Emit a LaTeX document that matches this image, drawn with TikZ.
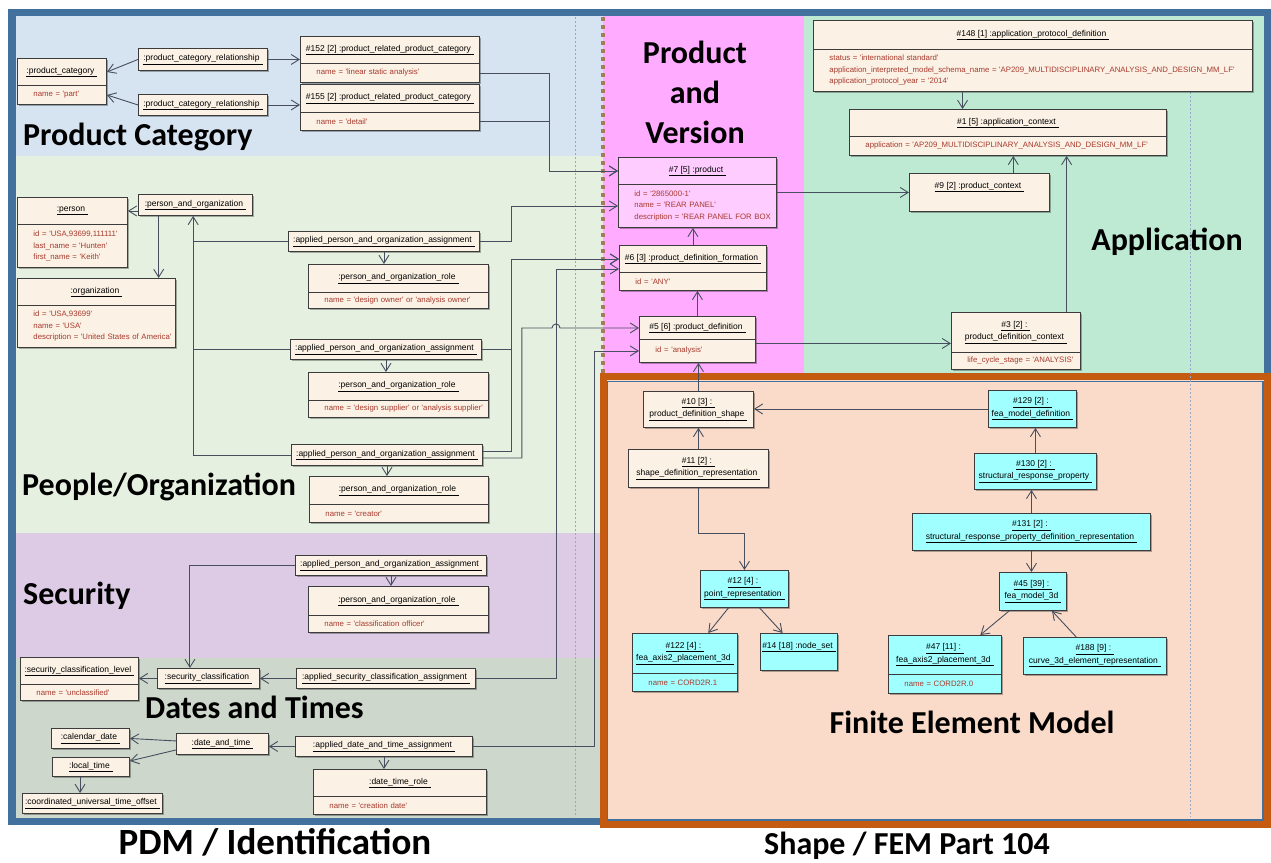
\documentclass[tikz,border=0pt]{standalone}
\usepackage{fontspec}
\usepackage{tikz}
\usetikzlibrary{positioning, calc, arrows.meta, shadows}

\newfontfamily\objfont{Liberation Sans}
\newfontfamily\titlefont{Carlito}

\definecolor{framecol}{HTML}{41719C}
\definecolor{femframe}{HTML}{C55A11}
\definecolor{catbg}{HTML}{D6E4F2}
\definecolor{pplbg}{HTML}{E6F0E1}
\definecolor{secbg}{HTML}{DDCAE4}
\definecolor{datebg}{HTML}{CDD7CB}
\definecolor{pvbg}{HTML}{FFABFF}
\definecolor{appbg}{HTML}{BEEAD3}
\definecolor{fembg}{HTML}{FADBC9}
\definecolor{objfill}{HTML}{FBF1E4}
\definecolor{feacyan}{HTML}{A0FFFF}
\definecolor{prodpink}{HTML}{FFCCFF}
\definecolor{boxline}{HTML}{3C3C3C}
\definecolor{attrred}{HTML}{A83A2E}
\definecolor{linkcol}{HTML}{474F5E}
\definecolor{gridcol}{HTML}{9AA6C8}
\definecolor{dotbrown}{HTML}{A8795C}

\newcommand{\objname}[1]{\underline{#1\hspace{3pt}}}

\begin{document}
\catcode`\_=12
\begin{tikzpicture}[x=1pt, y=-1pt,
    obj/.style={draw=boxline, fill=objfill, line width=0.9pt, anchor=north west,
      inner sep=1pt, align=center, font=\objfont\fontsize{8.5}{12.5}\selectfont,
      drop shadow={shadow xshift=1.5pt, shadow yshift=-1.5pt, fill=black, opacity=0.3}},
    attr/.style={obj, text=attrred, inner xsep=0pt, align=left,
      font=\objfont\fontsize{7.8}{11.5}\selectfont,
      execute at begin node={\leftskip=16pt\hyphenpenalty=10000}},
    fea/.style={fill=feacyan},
    prodbox/.style={fill=prodpink},
    wire/.style={draw=linkcol, line width=0.9pt},
    link/.style={wire, -{Straight Barb[length=8pt, width=10pt]}},
    ttl/.style={inner sep=0pt, font=\titlefont\bfseries\fontsize{32}{40}\selectfont},
    guide/.style={draw=gridcol, line width=0.6pt, dash pattern=on 2pt off 2pt},
    sz/.style 2 args={minimum width=#1pt, minimum height=#2pt},
    bsz/.style 2 args={text width=#1pt, minimum height=#2pt}]

    \useasboundingbox (0,0) rectangle (1271,862);

    % 背景
    \fill[catbg] (16,16) rectangle (603,156);
    \fill[pplbg] (16,156) rectangle (603,533);
    \fill[secbg] (16,533) rectangle (603,658);
    \fill[datebg] (16,658) rectangle (603,818);
    \fill[pvbg] (603,16) rectangle (804,376);
    \fill[appbg] (804,16) rectangle (1264,376);

    % 枠
    \draw[framecol, line width=7.5pt] (12,12.5) rectangle (1267.5,821.5);
    \fill[fembg] (603,376.5) rectangle (1267.5,824.5);
    \draw[framecol, line width=1.2pt] (607.5,381.5) rectangle (1263,820);
    \draw[femframe, line width=7pt] (603,376.5) rectangle (1267.5,824.5);

    % 点線
    \draw[guide] (575,17) -- (575,817);
    \draw[guide] (1190,92) -- (1190,817);
    \draw[dotbrown, line width=4.5pt, dash pattern=on 4pt off 4pt] (603,17) -- (603,373);

    % タイトル
    \node[ttl, anchor=base west] (ttlcat) at (23,145) {Product Category};
    \node[ttl, align=center] (ttlpv) at (695,92) {Product\\and\\Version};
    \node[ttl, anchor=base] (ttlapp) at (1167,250) {Application};
    \node[ttl, anchor=base west] (ttlppl) at (22,495) {People/Organization};
    \node[ttl, anchor=base west] (ttlsec) at (23,604) {Security};
    \node[ttl, anchor=base west] (ttldt) at (145,718) {Dates and Times};
    \node[ttl, anchor=base] (ttlfem) at (972,733) {Finite Element Model};
    \node[ttl, anchor=base, font=\titlefont\bfseries\fontsize{37}{40}\selectfont] (ttlpdm) at (275,854) {PDM / Identification};
    \node[ttl, anchor=base] (ttlshape) at (907,854) {Shape / FEM Part 104};

    % Product Category
    \node[obj, sz={89}{27}] (pcat) at (17,58) {\objname{:product_category}};
    \node[attr, bsz={89}{19}] (pcatb) at (17,85) {name = 'part'};
    \node[obj, sz={129}{22}] (pcr1) at (138,48) {\objname{:product_category_relationship}};
    \node[obj, sz={129}{21}] (pcr2) at (138,94) {\objname{:product_category_relationship}};
    \node[obj, sz={179}{27}] (prc152) at (300,36) {\objname{\#152 [2] :product_related_product_category}};
    \node[attr, bsz={179}{19}] (prc152b) at (300,63) {name = 'linear static analysis'};
    \node[obj, sz={179}{28}] (prc155) at (300,84) {\objname{\#155 [2] :product_related_product_category}};
    \node[attr, bsz={179}{18}] (prc155b) at (300,112) {name = 'detail'};

    % People/Organization
    \node[obj, sz={110}{27}] (person) at (17,197) {\objname{:person}};
    \node[attr, bsz={110}{43}] (personb) at (17,224) {id = 'USA,93699,111111'\\last_name = 'Hunten'\\first_name = 'Keith'};
    \node[obj, sz={114}{21}] (pao) at (138,194) {\objname{:person_and_organization}};
    \node[obj, sz={158}{27}] (org) at (17,278) {\objname{:organization}};
    \node[attr, bsz={158}{42}] (orgb) at (17,305) {id = 'USA,93699'\\name = 'USA'\\description = 'United States of America'};
    \node[obj, sz={191}{20}] (apoa1) at (288,231) {\objname{:applied_person_and_organization_assignment}};
    \node[obj, sz={180}{28}] (role1) at (308,264) {\objname{:person_and_organization_role}};
    \node[attr, bsz={180}{16}] (role1b) at (308,292) {name = 'design owner' or 'analysis owner'};
    \node[obj, sz={191}{20}] (apoa2) at (290,339) {\objname{:applied_person_and_organization_assignment}};
    \node[obj, sz={180}{28}] (role2) at (308,372) {\objname{:person_and_organization_role}};
    \node[attr, bsz={180}{17}] (role2b) at (308,400) {name = 'design supplier' or 'analysis supplier'};
    \node[obj, sz={191}{21}] (apoa3) at (291,444) {\objname{:applied_person_and_organization_assignment}};
    \node[obj, sz={179}{28}] (role3) at (309,476) {\objname{:person_and_organization_role}};
    \node[attr, bsz={179}{18}] (role3b) at (309,504) {name = 'creator'};

    % Security
    \node[obj, sz={191}{20}] (apoa4) at (295,555) {\objname{:applied_person_and_organization_assignment}};
    \node[obj, sz={180}{29}] (role4) at (308,586) {\objname{:person_and_organization_role}};
    \node[attr, bsz={180}{17}] (role4b) at (308,615) {name = 'classification officer'};
    \node[obj, sz={102}{20}] (sc) at (157,668) {\objname{:security_classification}};
    \node[obj, sz={118}{27}] (scl) at (20,657) {\objname{:security_classification_level}};
    \node[attr, bsz={118}{16}] (sclb) at (20,684) {name = 'unclassified'};
    \node[obj, sz={179}{20}] (asca) at (296,668) {\objname{:applied_security_classification_assignment}};

    % Dates and Times
    \node[obj, sz={92}{21}] (dt) at (176,733) {\objname{:date_and_time}};
    \node[obj, sz={78}{20}] (cd) at (51,728) {\objname{:calendar_date}};
    \node[obj, sz={77}{19}] (lt) at (52,757) {\objname{:local_time}};
    \node[obj, sz={140}{20}] (cuto) at (22,793) {\objname{:coordinated_universal_time_offset}};
    \node[obj, sz={177}{20}] (adta) at (295,736) {\objname{:applied_date_and_time_assignment}};
    \node[obj, sz={173}{27}] (dtr) at (313,769) {\objname{:date_time_role}};
    \node[attr, bsz={173}{18}] (dtrb) at (313,796) {name = 'creation date'};

    % Product and Version
    \node[obj, prodbox, sz={158}{27}] (prod) at (618,157) {\objname{\#7 [5] :product}};
    \node[attr, prodbox, bsz={158}{43}] (prodb) at (618,184) {id = '2865000-1'\\name = 'REAR PANEL'\\description~=~'REAR~PANEL~FOR~BOX};
    \node[obj, sz={147}{27}] (pdf) at (619,245) {\objname{\#6 [3] :product_definition_formation}};
    \node[attr, bsz={147}{18}] (pdfb) at (619,272) {id = 'ANY'};
    \node[obj, sz={116}{23}] (pd) at (639,316) {\objname{\#5 [6] :product_definition}};
    \node[attr, bsz={116}{23}] (pdb) at (639,339) {id = 'analysis'};

    % Application
    \node[obj, sz={439}{29}] (apd) at (813,20) {\objname{\#148 [1] :application_protocol_definition}};
    \node[attr, bsz={439}{42}] (apdb) at (813,49) {status = 'international standard'\\application_interpreted_model_schema_name~=~'AP209_MULTIDISCIPLINARY_ANALYSIS_AND_DESIGN_MM_LF'\\application_protocol_year = '2014'};
    \node[obj, sz={317}{27}] (ac) at (849,109) {\objname{\#1 [5] :application_context}};
    \node[attr, bsz={317}{19}] (acb) at (849,136) {application~=~'AP209_MULTIDISCIPLINARY_ANALYSIS_AND_DESIGN_MM_LF'};
    \node[obj, sz={140}{38}, text depth=14pt] (pc) at (909,173) {\objname{\#9 [2] :product_context}};
    \node[obj, sz={129}{40}] (pdc) at (951,312) {\objname{\#3 [2] :}\\\objname{product_definition_context}};
    \node[attr, bsz={129}{17}] (pdcb) at (951,352) {life_cycle_stage = 'ANALYSIS'};

    % Finite Element Model
    \node[obj, sz={110}{36}] (pds) at (643,391) {\objname{\#10 [3] :}\\\objname{product_definition_shape}};
    \node[obj, sz={140}{38}] (sdr) at (628,449) {\objname{\#11 [2] :}\\\objname{shape_definition_representation}};
    \node[obj, fea, sz={88}{37}] (pr) at (700,570) {\objname{\#12 [4] :}\\\objname{point_representation}};
    \node[obj, fea, sz={105}{40}] (fap1) at (632,633) {\objname{\#122 [4] :}\\\objname{fea_axis2_placement_3d}};
    \node[attr, fea, bsz={105}{18}] (fap1b) at (632,673) {name = CORD2R.1};
    \node[obj, fea, sz={77}{37}, text depth=14pt] (ns) at (760,633) {\objname{\#14 [18] :node_set}};
    \node[obj, fea, sz={88}{37}] (fmd) at (988,390) {\objname{\#129 [2] :}\\\objname{fea_model_definition}};
    \node[obj, fea, sz={122}{36}] (srp) at (974,453) {\objname{\#130 [2] :}\\\objname{structural_response_property}};
    \node[obj, fea, sz={238}{37}] (srpdr) at (912,513) {\objname{\#131 [2] :}\\\objname{structural_response_property_definition_representation}};
    \node[obj, fea, sz={67}{38}] (fm) at (999,572) {\objname{\#45 [39] :}\\\objname{fea_model_3d}};
    \node[obj, fea, sz={113}{39}] (fap0) at (888,635) {\objname{\#47 [11] :}\\\objname{fea_axis2_placement_3d}};
    \node[attr, fea, bsz={113}{19}] (fap0b) at (888,674) {name = CORD2R.0};
    \node[obj, fea, sz={143}{37}] (cer) at (1023,637) {\objname{\#188 [9] :}\\\objname{curve_3d_element_representation}};

    % 接続点
    \coordinate (pao-hub) at ($(pao.south west)!0.48!(pao.south east)$);
    \coordinate (pao-org) at ($(pao.south west)!0.18!(pao.south east)$);
    \coordinate (sc-in) at ($(sc.north west)!0.32!(sc.north east)$);
    \coordinate (lt-out) at ($(lt.south west)!0.36!(lt.south east)$);
    \coordinate (apd-ac) at ($(apdb.south west)!0.34!(apdb.south east)$);
    \coordinate (pc-ac) at ($(pc.north west)!0.74!(pc.north east)$);
    \coordinate (pdc-ac) at ($(pdc.north west)!0.89!(pdc.north east)$);
    \coordinate (pd-pdc) at ([yshift=-11pt]pdc.west);

    % 矢印 Product Category
    \draw[link] (pcr1.west) -- (pcat.east);
    \draw[link] (pcr2.west) -- (pcatb.east);
    \draw[link] (pcr1.east) -- (pcr1.east -| prc152.west);
    \draw[link] (pcr2.east) -- (pcr2.east -| prc155.west);
    \draw[link] (prc152b.east) -- ++(70,0) |- (prod.west);
    \draw[link] (prc155b.east) -- ++(70,0) |- (prod.west);

    % 矢印 People/Organization
    \draw[link] (pao.west |- person.east) -- (person.east);
    \draw[link] (pao-org) -- (pao-org |- org.north);
    \draw[link] (apoa3.west) -| (pao-hub);
    \draw[wire] (apoa1.west) -- (apoa1.west -| pao-hub);
    \draw[wire] (apoa2.west) -- (apoa2.west -| pao-hub);
    \draw[link] (apoa1.south) -- (apoa1.south |- role1.north);
    \draw[link] (apoa2.south) -- (apoa2.south |- role2.north);
    \draw[link] (apoa3.south) -- (apoa3.south |- role3.north);
    \draw[link] (apoa1.east) -- ++(32,0) |- (prodb.west);
    \draw[link] (apoa2.east) -- ++(30,0) |- (pdf.west);
    \draw[link] ([yshift=4pt]apoa3.east) -- ++(29,0) |- (pdf.west);
    \draw[link] ([yshift=-3pt]apoa3.east) -- ++(39,0) |- ([xshift=-87pt]pd.west)
        arc[start angle=180, end angle=0, radius=4pt] -- (pd.west);

    % 矢印 Security
    \draw[link] (apoa4.south) -- (apoa4.south |- role4.north);
    \draw[link] (apoa4.west) -| (sc-in);
    \draw[link] (sc.west) -- (sc.west -| scl.east);
    \draw[link] (asca.west) -- (asca.west -| sc.east);
    \draw[link] (asca.east) -- ++(81,0) |- ([yshift=-10pt]pdf.west);

    % 矢印 Dates and Times
    \draw[link] ([yshift=3pt]dt.west) -- (cd.east);
    \draw[link] ([yshift=-6pt]dt.west) -- ([yshift=6pt]lt.east);
    \draw[link] (lt-out) -- (lt-out |- cuto.north);
    \draw[link] (adta.west) -- (adta.west -| dt.east);
    \draw[link] (adta.south) -- (adta.south |- dtr.north);
    \draw[link] (adta.east) -- ++(122,0) |- (pdb.west);

    % 矢印 Product and Version, Application
    \draw[link] (pdf.north) -- (pdf.north |- prodb.south);
    \draw[link] (pd.north) -- (pd.north |- pdfb.south);
    \draw[link] (prod.east |- pc.west) -- (pc.west);
    \draw[link] (pd.east |- pd-pdc) -- (pd-pdc);
    \draw[link] (apd-ac) -- (apd-ac |- ac.north);
    \draw[link] (pc-ac) -- (pc-ac |- acb.south);
    \draw[link] (pdc-ac) -- (pdc-ac |- acb.south);

    % 矢印 Finite Element Model
    \draw[link] (pds.north) -- (pds.north |- pdb.south);
    \draw[link] (sdr.north) -- (sdr.north |- pds.south);
    \draw[link] (sdr.south) -- ++(0,46) -| (pr.north);
    \draw[link] ($(pr.south west)!0.32!(pr.south east)$) -- ($(fap1.north west)!0.72!(fap1.north east)$);
    \draw[link] ($(pr.south west)!0.67!(pr.south east)$) -- ($(ns.north west)!0.29!(ns.north east)$);
    \draw[link] (fmd.west) -- (fmd.west -| pds.east);
    \draw[link] (srp.north) -- (srp.north |- fmd.south);
    \draw[link] (srpdr.north) -- (srpdr.north |- srp.south);
    \draw[link] (srpdr.south) -- (srpdr.south |- fm.north);
    \draw[link] ($(fm.south west)!0.15!(fm.south east)$) -- ($(fap0.north west)!0.81!(fap0.north east)$);
    \draw[link] ($(cer.north west)!0.37!(cer.north east)$) -- ($(fm.south west)!0.78!(fm.south east)$);
\end{tikzpicture}
\end{document}
